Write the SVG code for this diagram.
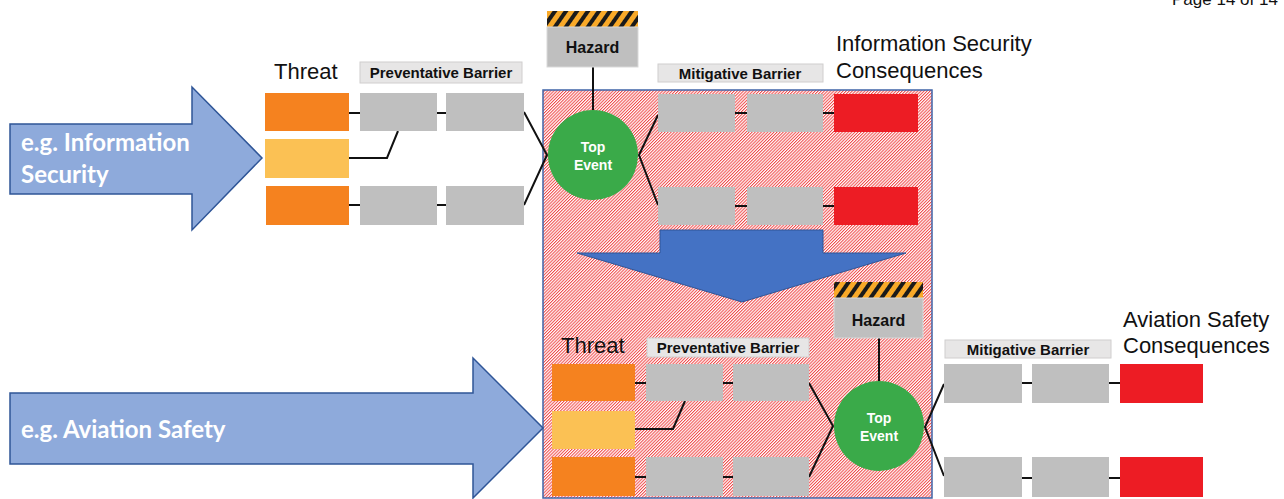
<svg xmlns="http://www.w3.org/2000/svg" width="1284" height="499" viewBox="0 0 1284 499">
<defs>
<pattern id="hatch" patternUnits="userSpaceOnUse" width="2.2" height="4" patternTransform="rotate(45)">
<rect width="2.2" height="4" fill="#ffffff"/>
<rect x="0" y="0" width="1" height="4" fill="#f04848"/>
</pattern>
<pattern id="stripes" patternUnits="userSpaceOnUse" width="9" height="9" patternTransform="rotate(35)">
<rect width="9" height="9" fill="#f9a928"/>
<rect width="4" height="9" fill="#1a1a1a"/>
</pattern>
<style>
.thr{fill:#f5821f}
.thy{fill:#fbc154}
.bar{fill:#bfbfbf}
.con{fill:#ed1c24}
.lbl{fill:#e7e6e6;stroke:#d0cece;stroke-width:1}
.haz{fill:#bfbfbf;stroke:#d9d9d9;stroke-width:1}
.top{fill:#3aaa49}
.big{fill:#8eaadb;stroke:#2f5597;stroke-width:1.5}
.t22{font-family:"Liberation Sans",Arial,sans-serif;font-size:22px;fill:#111}
.tb{font-family:"Liberation Sans",Arial,sans-serif;font-weight:bold;font-size:15px;fill:#111;text-anchor:middle}
.th{font-family:"Liberation Sans",Arial,sans-serif;font-weight:bold;font-size:16px;fill:#111;text-anchor:middle}
.tw{font-family:"Liberation Sans",Arial,sans-serif;font-weight:bold;font-size:14px;fill:#fff;text-anchor:middle}
.ta{font-family:Lato,"Open Sans",sans-serif;font-weight:bold;font-size:24px;fill:#fff}
.ln{fill:none;stroke:#111;stroke-width:2}
</style>
</defs>

<g id="page-number"><text x="1172" y="5" font-family="Liberation Sans, Arial, sans-serif" font-size="17" fill="#111">Page 14 of 14</text></g>

<g id="scope-box"><rect x="543" y="90" width="389" height="408" fill="url(#hatch)" stroke="#3f64a8" stroke-width="1.5"/></g>

<g id="transfer-arrow"><polygon points="660,230 823,230 823,253 906,253 742,302 577,253 660,253" fill="#4472c4" stroke="#2f5597" stroke-width="1"/></g>

<g id="info-security-arrow">
<polygon class="big" points="10,124 192,124 192,87 262,158 192,230 192,194 10,194"/>
<text class="ta" x="21" y="151">e.g. Information</text>
<text class="ta" x="21" y="183">Security</text>
</g>
<g id="aviation-safety-arrow">
<polygon class="big" points="10,393 473,393 473,358 543,428 473,498 473,464 10,464"/>
<text class="ta" x="21" y="438">e.g. Aviation Safety</text>
</g>

<g id="connectors">
<path class="ln" d="M349,113H360M437,113H446M349,205H360M437,205H446"/>
<polyline class="ln" points="349,158 387,158 398,131"/>
<polyline class="ln" points="524,112 547,155 524,205"/>
<line class="ln" x1="593" y1="67" x2="593" y2="110"/>
<polyline class="ln" points="658,115 639,155 658,205"/>
<path class="ln" d="M735,113H747M823,113H834M735,206H747M823,206H834"/>
<path class="ln" d="M635,383H646M723,383H733M635,477H646M723,477H733"/>
<polyline class="ln" points="635,429 673,429 685,401"/>
<polyline class="ln" points="809,383 833,426 809,477"/>
<line class="ln" x1="879" y1="338" x2="879" y2="381"/>
<polyline class="ln" points="944,384 925,427 944,476"/>
<path class="ln" d="M1022,383H1032M1109,383H1120M1022,478H1032M1109,478H1120"/>
</g>

<g id="is-threat-title"><text class="t22" x="274" y="79">Threat</text></g>
<g id="is-prev-label"><rect class="lbl" x="360" y="62" width="162" height="21"/><text class="tb" x="441" y="78">Preventative Barrier</text></g>
<g id="is-threat-1"><rect class="thr" x="265" y="93" width="84" height="38"/></g>
<g id="is-threat-2"><rect class="thy" x="265" y="139" width="84" height="39"/></g>
<g id="is-threat-3"><rect class="thr" x="266" y="186" width="83" height="39"/></g>
<g id="is-prev-1a"><rect class="bar" x="360" y="93" width="77" height="38"/></g>
<g id="is-prev-1b"><rect class="bar" x="446" y="93" width="78" height="38"/></g>
<g id="is-prev-3a"><rect class="bar" x="360" y="186" width="77" height="39"/></g>
<g id="is-prev-3b"><rect class="bar" x="446" y="186" width="78" height="39"/></g>
<g id="is-hazard"><rect fill="url(#stripes)" x="547" y="11" width="91" height="16"/><rect class="haz" x="547" y="27" width="91" height="40"/><text class="th" x="592.5" y="53">Hazard</text></g>
<g id="is-top-event"><circle class="top" cx="593" cy="155" r="45"/><text class="tw" x="593" y="152">Top</text><text class="tw" x="593" y="170">Event</text></g>
<g id="is-mit-label"><rect class="lbl" x="658" y="64" width="165" height="18"/><text class="tb" x="740" y="78.5">Mitigative Barrier</text></g>
<g id="is-mit-1a"><rect class="bar" x="658" y="94" width="77" height="38"/></g>
<g id="is-mit-1b"><rect class="bar" x="747" y="94" width="76" height="38"/></g>
<g id="is-cons-1"><rect class="con" x="834" y="94" width="84" height="38"/></g>
<g id="is-mit-2a"><rect class="bar" x="658" y="187" width="77" height="38"/></g>
<g id="is-mit-2b"><rect class="bar" x="747" y="187" width="76" height="38"/></g>
<g id="is-cons-2"><rect class="con" x="834" y="187" width="84" height="38"/></g>
<g id="is-cons-title"><text class="t22" x="836" y="51">Information Security</text><text class="t22" x="836" y="78">Consequences</text></g>

<g id="as-threat-title"><text class="t22" x="561" y="353">Threat</text></g>
<g id="as-prev-label"><rect class="lbl" x="647" y="338" width="162" height="19"/><text class="tb" x="728" y="353">Preventative Barrier</text></g>
<g id="as-threat-1"><rect class="thr" x="552" y="364" width="83" height="37"/></g>
<g id="as-threat-2"><rect class="thy" x="552" y="411" width="83" height="38"/></g>
<g id="as-threat-3"><rect class="thr" x="552" y="457" width="83" height="39"/></g>
<g id="as-prev-1a"><rect class="bar" x="646" y="364" width="77" height="37"/></g>
<g id="as-prev-1b"><rect class="bar" x="733" y="364" width="76" height="37"/></g>
<g id="as-prev-3a"><rect class="bar" x="646" y="457" width="77" height="39"/></g>
<g id="as-prev-3b"><rect class="bar" x="733" y="457" width="76" height="39"/></g>
<g id="as-hazard"><rect fill="url(#stripes)" x="834" y="282" width="89" height="16"/><rect class="haz" x="834" y="298" width="89" height="40"/><text class="th" x="878.5" y="326">Hazard</text></g>
<g id="as-top-event"><circle class="top" cx="879" cy="426" r="45"/><text class="tw" x="879" y="423">Top</text><text class="tw" x="879" y="441">Event</text></g>
<g id="as-mit-label"><rect class="lbl" x="945" y="340" width="166" height="18"/><text class="tb" x="1028" y="354.5">Mitigative Barrier</text></g>
<g id="as-mit-1a"><rect class="bar" x="944" y="364" width="78" height="39"/></g>
<g id="as-mit-1b"><rect class="bar" x="1032" y="364" width="77" height="39"/></g>
<g id="as-cons-1"><rect class="con" x="1120" y="364" width="83" height="39"/></g>
<g id="as-mit-2a"><rect class="bar" x="944" y="457" width="78" height="40"/></g>
<g id="as-mit-2b"><rect class="bar" x="1032" y="457" width="77" height="40"/></g>
<g id="as-cons-2"><rect class="con" x="1120" y="457" width="83" height="40"/></g>
<g id="as-cons-title"><text class="t22" x="1123" y="327">Aviation Safety</text><text class="t22" x="1123" y="353">Consequences</text></g>
</svg>
